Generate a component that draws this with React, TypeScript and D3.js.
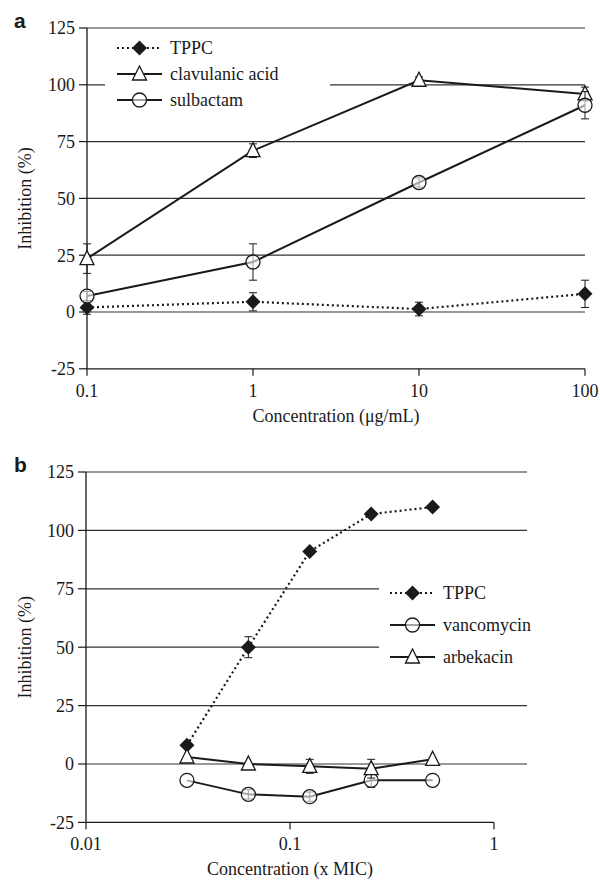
import React from "react";
import * as d3 from "d3";

const concA = [0.1, 1, 10, 100];
const tppcA = [2, 4.5, 1.3, 8];
const tppcAErr = [3, 4, 3, 6];
const clavA = [23.5, 71, 102, 96];
const clavAErr = [6.5, 3, 1.5, 3];
const sulbA = [7, 22, 57, 91];
const sulbAErr = [2, 8, 2, 6];
const xTicksA = [0.1, 1, 10, 100];
const xTickLabelsA = ["0.1", "1", "10", "100"];

const concB = [0.03125, 0.0625, 0.125, 0.25, 0.5];
const tppcB = [8, 50, 91, 107, 110];
const tppcBErr = [0, 4.5, 0, 0, 0];
const vancB = [-7, -13, -14, -7, -7];
const vancBErr = [0, 2, 2, 3, 0];
const arbB = [3, 0, -1, -2, 2];
const arbBErr = [0, 0, 3, 4, 0];
const xTicksB = [0.01, 0.1, 1];
const xTickLabelsB = ["0.01", "0.1", "1"];

const yTicks = [-25, 0, 25, 50, 75, 100, 125];

type S = { name: string; vals: number[]; err: number[]; marker: "diamond" | "triangle" | "circle"; dotted: boolean };

const FONT = "'Liberation Serif', 'Times New Roman', Times, serif";
const INK = "#1a1a1a";
const FS = 18;

function Marker({ kind, x, y }: { kind: string; x: number; y: number }) {
  if (kind === "diamond") {
    const s = 7.5;
    return <path d={`M${x},${y - s}L${x + s},${y}L${x},${y + s}L${x - s},${y}Z`} fill={INK} />;
  }
  if (kind === "triangle") {
    const s = 7;
    return <path d={`M${x},${y - s - 1}L${x + s},${y + s - 1}L${x - s},${y + s - 1}Z`} fill="#fff" stroke={INK} strokeWidth={1.3} />;
  }
  return <circle cx={x} cy={y} r={7} fill="#fff" fillOpacity={0.6} stroke={INK} strokeWidth={1.3} />;
}

function Panel({
  label, top, unit, x0, x1, gridEnd, xDomain, xTicks, xTickLabels, series, conc, xTitle, legend,
}: {
  label: string; top: number; unit: number; x0: number; x1: number; gridEnd: number; xDomain: [number, number];
  xTicks: number[]; xTickLabels: string[]; series: S[]; conc: number[]; xTitle: string;
  legend: { x: number; y: number; dy: number; box: [number, number, number, number] };
}) {
  const yTop = top;
  const yBottom = top + 6 * unit;
  const x = d3.scaleLog().domain(xDomain).range([x0, x1]);
  const y = d3.scaleLinear().domain([-25, 125]).range([yBottom, yTop]);
  const line = d3.line<number>().x((_, i) => x(conc[i])).y((v) => y(v));
  return (
    <g>
      <text x={14} y={top} fontFamily="'Liberation Sans', Arial, sans-serif" fontWeight="bold" fontSize={21} fill={INK}>{label}</text>
      {yTicks.filter((t) => t > -25).map((t) => (
        <line key={t} x1={x0} x2={gridEnd} y1={y(t)} y2={y(t)} stroke="#333" strokeWidth={1.2} />
      ))}
      <rect x={legend.box[0]} y={legend.box[1]} width={legend.box[2]} height={legend.box[3]} fill="#fff" />
      <line x1={x0} x2={x0} y1={yTop} y2={yBottom} stroke={INK} strokeWidth={1.3} />
      <line x1={x0} x2={x1} y1={yBottom} y2={yBottom} stroke={INK} strokeWidth={1.3} />
      {yTicks.map((t) => (
        <g key={t}>
          <line x1={x0 - 8} x2={x0} y1={y(t)} y2={y(t)} stroke={INK} strokeWidth={1.2} />
          <text x={x0 - 12} y={y(t)} dy="0.35em" textAnchor="end" fontFamily={FONT} fontSize={FS} fill={INK}>{t}</text>
        </g>
      ))}
      {xTicks.map((t, i) => (
        <g key={t}>
          <line x1={x(t)} x2={x(t)} y1={yBottom} y2={yBottom + 7} stroke={INK} strokeWidth={1.2} />
          <text x={x(t)} y={yBottom + 28} textAnchor="middle" fontFamily={FONT} fontSize={FS} fill={INK}>{xTickLabels[i]}</text>
        </g>
      ))}
      <text x={(x0 + x1) / 2} y={yBottom + 53} textAnchor="middle" fontFamily={FONT} fontSize={FS} fill={INK}>{xTitle}</text>
      <text transform={`translate(31,${(yTop + yBottom) / 2}) rotate(-90)`} textAnchor="middle" fontFamily={FONT} fontSize={FS} fill={INK}>Inhibition (%)</text>
      {series.map((s) => (
        <g key={s.name}>
          <path d={line(s.vals) || ""} fill="none" stroke={INK} strokeWidth={s.dotted ? 2.2 : 2} strokeDasharray={s.dotted ? "2,3" : undefined} />
          {s.vals.map((v, i) => s.err[i] > 0 ? (
            <g key={i} stroke={INK} strokeWidth={1}>
              <line x1={x(conc[i])} x2={x(conc[i])} y1={y(v - s.err[i])} y2={y(v + s.err[i])} />
              <line x1={x(conc[i]) - 4} x2={x(conc[i]) + 4} y1={y(v - s.err[i])} y2={y(v - s.err[i])} />
              <line x1={x(conc[i]) - 4} x2={x(conc[i]) + 4} y1={y(v + s.err[i])} y2={y(v + s.err[i])} />
            </g>
          ) : null)}
          {s.vals.map((v, i) => <Marker key={i} kind={s.marker} x={x(conc[i])} y={y(v)} />)}
        </g>
      ))}
      {series.map((s, i) => {
        const ly = legend.y + i * legend.dy;
        return (
          <g key={"lg" + s.name}>
            <line x1={legend.x} x2={legend.x + 45} y1={ly} y2={ly} stroke={INK} strokeWidth={2} strokeDasharray={s.dotted ? "2,3" : undefined} />
            <Marker kind={s.marker} x={legend.x + 22.5} y={ly} />
            <text x={legend.x + 53} y={ly} dy="0.33em" fontFamily={FONT} fontSize={FS} fill={INK}>{s.name}</text>
          </g>
        );
      })}
    </g>
  );
}

export default function App() {
  const seriesA: S[] = [
    { name: "TPPC", vals: tppcA, err: tppcAErr, marker: "diamond", dotted: true },
    { name: "clavulanic acid", vals: clavA, err: clavAErr, marker: "triangle", dotted: false },
    { name: "sulbactam", vals: sulbA, err: sulbAErr, marker: "circle", dotted: false },
  ];
  const seriesB: S[] = [
    { name: "TPPC", vals: tppcB, err: tppcBErr, marker: "diamond", dotted: true },
    { name: "vancomycin", vals: vancB, err: vancBErr, marker: "circle", dotted: false },
    { name: "arbekacin", vals: arbB, err: arbBErr, marker: "triangle", dotted: false },
  ];
  return (
    <svg width={600} height={880} style={{ position: "absolute", left: 0, top: 0, background: "#fff" }}>
      <Panel label="a" top={28} unit={56.8} x0={87} x1={585} gridEnd={585} xDomain={[0.1, 100]} xTicks={xTicksA}
        xTickLabels={xTickLabelsA} series={seriesA} conc={concA} xTitle="Concentration (μg/mL)"
        legend={{ x: 117, y: 48, dy: 26, box: [105, 36, 225, 76] }} />
      <Panel label="b" top={472} unit={58.4} x0={86} x1={494} gridEnd={527} xDomain={[0.01, 1]} xTicks={xTicksB}
        xTickLabels={xTickLabelsB} series={seriesB} conc={concB} xTitle="Concentration (x MIC)"
        legend={{ x: 390, y: 593, dy: 32, box: [379, 575, 200, 95] }} />
    </svg>
  );
}
